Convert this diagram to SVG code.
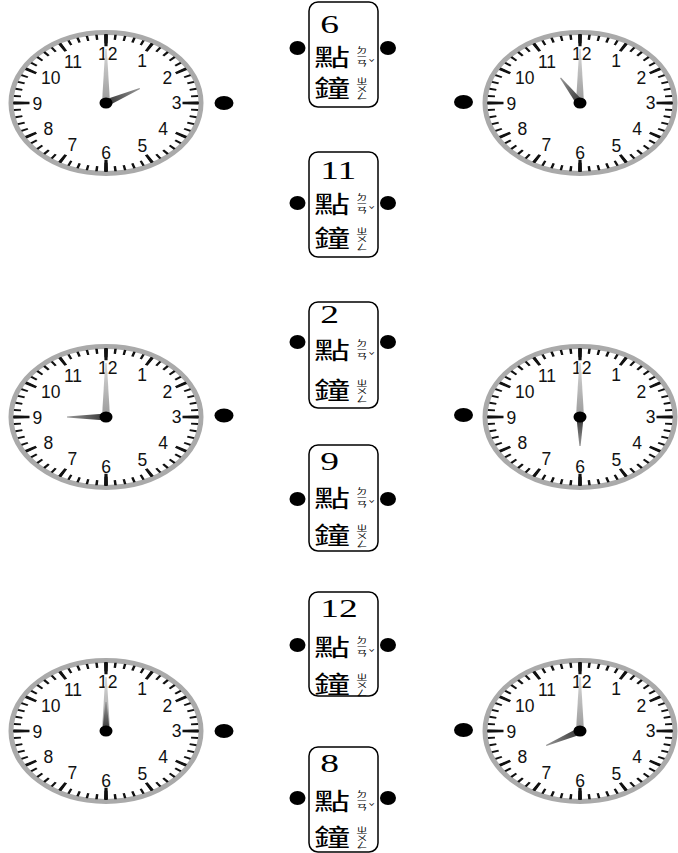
<svg xmlns="http://www.w3.org/2000/svg" xmlns:xlink="http://www.w3.org/1999/xlink" width="678" height="853" viewBox="0 0 678 853">
<style>
.num{font-family:"Liberation Sans","DejaVu Sans",sans-serif;font-size:17.5px;fill:#111;text-anchor:middle}
.box{fill:#fff;stroke:#000;stroke-width:1.5}
.dot{fill:#000}
.n{font-family:"Liberation Serif","Times New Roman",serif;font-size:25px;fill:#000}
.c{font-family:"Noto Sans CJK TC","Noto Sans CJK SC",sans-serif;font-size:24px;fill:#000;writing-mode:vertical-rl;text-anchor:start}
.b{font-family:"Noto Sans CJK TC","Noto Sans CJK SC",sans-serif;font-size:7.5px;fill:#000;writing-mode:vertical-rl;text-anchor:start}
.t{font-family:"Noto Sans CJK TC","Noto Sans CJK SC",sans-serif;font-size:7px;fill:#000;text-anchor:middle}
.mh{fill:url(#gm)}
.hh{fill:url(#gh)}
</style>
<defs>
<linearGradient id="gm" x1="0" y1="1" x2="0" y2="0"><stop offset="0" stop-color="#999"/><stop offset="1" stop-color="#d8d8d8"/></linearGradient>
<linearGradient id="gh" x1="0" y1="1" x2="0" y2="0"><stop offset="0" stop-color="#333"/><stop offset="1" stop-color="#999"/></linearGradient>
<g id="face">
<ellipse rx="95" ry="70.5" fill="#fff" stroke="#aaa" stroke-width="5"/>
<g transform="scale(1,0.742)" fill="none" stroke="#111">
<circle r="89" stroke-width="7" pathLength="360" stroke-dasharray="1.6 4.4" stroke-dashoffset="0.8"/>
<circle r="86.5" stroke-width="12" pathLength="360" stroke-dasharray="2.2 27.8" stroke-dashoffset="1.1"/>
<circle r="84.5" stroke-width="16" pathLength="360" stroke-dasharray="2.4 87.6" stroke-dashoffset="1.2"/>
</g>
<text class="num" x="1.7" y="-42.7">12</text>
<text class="num" x="36" y="-36.4">1</text>
<text class="num" x="61.3" y="-19.4">2</text>
<text class="num" x="70.7" y="6.3">3</text>
<text class="num" x="57" y="31.6">4</text>
<text class="num" x="36.3" y="48.6">5</text>
<text class="num" x="0" y="56">6</text>
<text class="num" x="-33.7" y="47.6">7</text>
<text class="num" x="-57.7" y="32">8</text>
<text class="num" x="-68.7" y="7">9</text>
<text class="num" x="-55.3" y="-19.4">10</text>
<text class="num" x="-33" y="-34.7">11</text>
</g>
<polygon id="minute" class="mh" points="-4,0 -0.8,-54 0.8,-54 4,0"/>
</defs>

<g id="clock-1" transform="translate(106,103)">
<use xlink:href="#face"/>
<use xlink:href="#minute"/>
<polygon class="hh" points="-3.6,0 -0.6,-36.8 0.6,-36.8 3.6,0" transform="rotate(66.8)"/>
<ellipse rx="6.5" ry="5.5"/>
<ellipse class="dot" cx="118" cy="0" rx="9.5" ry="7"/>
</g>
<g id="clock-2" transform="translate(580,103)">
<use xlink:href="#face"/>
<use xlink:href="#minute"/>
<polygon class="hh" points="-3.6,0 -0.6,-31.8 0.6,-31.8 3.6,0" transform="rotate(-37.8)"/>
<ellipse rx="6.5" ry="5.5"/>
<ellipse class="dot" cx="-116.5" cy="-1" rx="9.5" ry="7"/>
</g>
<g id="clock-3" transform="translate(106,417)">
<use xlink:href="#face"/>
<use xlink:href="#minute"/>
<polygon class="hh" points="-3.6,0 -0.6,-39 0.6,-39 3.6,0" transform="rotate(-90)"/>
<ellipse rx="6.5" ry="5.5"/>
<ellipse class="dot" cx="118" cy="-1.5" rx="9.5" ry="7"/>
</g>
<g id="clock-4" transform="translate(580,417)">
<use xlink:href="#face"/>
<use xlink:href="#minute"/>
<polygon class="hh" points="-3.6,0 -0.6,-29 0.6,-29 3.6,0" transform="rotate(180)"/>
<ellipse rx="6.5" ry="5.5"/>
<ellipse class="dot" cx="-116.5" cy="-2" rx="9.5" ry="7"/>
</g>
<g id="clock-5" transform="translate(106,731)">
<use xlink:href="#face"/>
<use xlink:href="#minute"/>
<polygon class="hh" points="-3.6,0 -0.6,-29 0.6,-29 3.6,0"/>
<ellipse rx="6.5" ry="5.5"/>
<ellipse class="dot" cx="118" cy="0" rx="9.5" ry="7"/>
</g>
<g id="clock-6" transform="translate(580,731)">
<use xlink:href="#face"/>
<use xlink:href="#minute"/>
<polygon class="hh" points="-3.6,0 -0.6,-36.8 0.6,-36.8 3.6,0" transform="rotate(-113.2)"/>
<ellipse rx="6.5" ry="5.5"/>
<ellipse class="dot" cx="-116.5" cy="-1" rx="9.5" ry="7"/>
</g>

<g id="label-6">
<rect class="box" x="309" y="2" width="69" height="105" rx="9"/>
<ellipse class="dot" cx="297.5" cy="48" rx="8" ry="7"/>
<ellipse class="dot" cx="388" cy="48" rx="8" ry="7"/>
<g transform="translate(343.5,0) scale(1.5,1)">
<text class="n" x="-15.5" y="33">6</text>
<text class="c" x="-7.7" y="45 75.5">點鐘</text>
<text class="b" x="12.3" y="46.25 53.75 59.75">ㄉㄧㄢ</text>
<text class="t" x="18.8" y="65.5">ˇ</text>
<text class="b" x="12.3" y="77.25 85.25 92.75">ㄓㄨㄥ</text>
</g>
</g>
<g id="label-11">
<rect class="box" x="309" y="152" width="69" height="105" rx="9"/>
<ellipse class="dot" cx="297.5" cy="203" rx="8" ry="7"/>
<ellipse class="dot" cx="388" cy="203" rx="8" ry="7"/>
<g transform="translate(343.5,0) scale(1.5,1)">
<text class="n" x="-15.5" y="179">11</text>
<text class="c" x="-7.7" y="192 226">點鐘</text>
<text class="b" x="12.3" y="193.25 200.75 206.75">ㄉㄧㄢ</text>
<text class="t" x="18.8" y="212.5">ˇ</text>
<text class="b" x="12.3" y="227.75 235.75 243.25">ㄓㄨㄥ</text>
</g>
</g>
<g id="label-2">
<rect class="box" x="309" y="302" width="69" height="106" rx="9"/>
<ellipse class="dot" cx="297.5" cy="342" rx="8" ry="7"/>
<ellipse class="dot" cx="388" cy="342" rx="8" ry="7"/>
<g transform="translate(343.5,0) scale(1.5,1)">
<text class="n" x="-15.5" y="323">2</text>
<text class="c" x="-7.7" y="338 378">點鐘</text>
<text class="b" x="12.3" y="339.25 346.75 352.75">ㄉㄧㄢ</text>
<text class="t" x="18.8" y="358.5">ˇ</text>
<text class="b" x="12.3" y="379.75 387.75 395.25">ㄓㄨㄥ</text>
</g>
</g>
<g id="label-9">
<rect class="box" x="309" y="445" width="69" height="106" rx="9"/>
<ellipse class="dot" cx="297.5" cy="499" rx="8" ry="7"/>
<ellipse class="dot" cx="388" cy="499" rx="8" ry="7"/>
<g transform="translate(343.5,0) scale(1.5,1)">
<text class="n" x="-15.5" y="470">9</text>
<text class="c" x="-7.7" y="486 523">點鐘</text>
<text class="b" x="12.3" y="487.25 494.75 500.75">ㄉㄧㄢ</text>
<text class="t" x="18.8" y="506.5">ˇ</text>
<text class="b" x="12.3" y="524.75 532.75 540.25">ㄓㄨㄥ</text>
</g>
</g>
<g id="label-12">
<rect class="box" x="309" y="592" width="69" height="104" rx="9"/>
<ellipse class="dot" cx="297.5" cy="645" rx="8" ry="7"/>
<ellipse class="dot" cx="388" cy="645" rx="8" ry="7"/>
<g transform="translate(343.5,0) scale(1.5,1)">
<text class="n" x="-15.5" y="617">12</text>
<text class="c" x="-7.7" y="635 672">點鐘</text>
<text class="b" x="12.3" y="636.25 643.75 649.75">ㄉㄧㄢ</text>
<text class="t" x="18.8" y="655.5">ˇ</text>
<text class="b" x="12.3" y="673.75 681.75 689.25">ㄓㄨㄥ</text>
</g>
</g>
<g id="label-8">
<rect class="box" x="309" y="747" width="69" height="105" rx="9"/>
<ellipse class="dot" cx="297.5" cy="798" rx="8" ry="7"/>
<ellipse class="dot" cx="388" cy="798" rx="8" ry="7"/>
<g transform="translate(343.5,0) scale(1.5,1)">
<text class="n" x="-15.5" y="772">8</text>
<text class="c" x="-7.7" y="789 824.5">點鐘</text>
<text class="b" x="12.3" y="790.25 797.75 803.75">ㄉㄧㄢ</text>
<text class="t" x="18.8" y="809.5">ˇ</text>
<text class="b" x="12.3" y="826.25 834.25 841.75">ㄓㄨㄥ</text>
</g>
</g>
</svg>
